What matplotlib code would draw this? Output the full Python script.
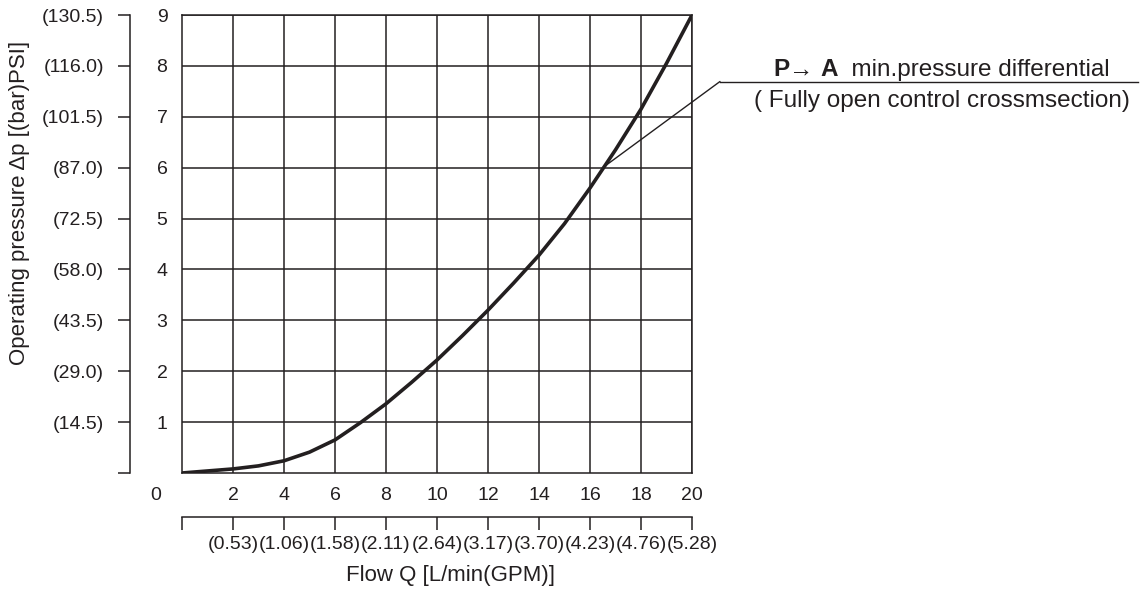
import matplotlib
matplotlib.use("Agg")
import matplotlib.pyplot as plt
from matplotlib.ticker import FixedLocator, FixedFormatter
from matplotlib.lines import Line2D

plt.rcParams['font.family'] = ['Liberation Sans', 'DejaVu Sans']

# ---- data ----
flow = [0, 1, 2, 3, 4, 5, 6, 7, 8, 9, 10, 11, 12, 13, 14, 15, 16, 17, 18, 19, 20]
pressure = [0, 0.04, 0.08, 0.14, 0.24, 0.41, 0.65, 0.99, 1.36, 1.78, 2.22, 2.70,
            3.20, 3.73, 4.28, 4.90, 5.60, 6.35, 7.15, 8.05, 9.0]
bar_ticks = [1, 2, 3, 4, 5, 6, 7, 8, 9]
bar_labels = ['1', '2', '3', '4', '5', '6', '7', '8', '9']
psi_ticks = [0, 1, 2, 3, 4, 5, 6, 7, 8, 9]
psi_labels = ['', '(14.5)', '(29.0)', '(43.5)', '(58.0)', '(72.5)', '(87.0)',
              '(101.5)', '(116.0)', '(130.5)']
lpm_ticks = [2, 4, 6, 8, 10, 12, 14, 16, 18, 20]
lpm_labels = ['2', '4', '6', '8', '10', '12', '14', '16', '18', '20']
gpm_ticks = [0, 2, 4, 6, 8, 10, 12, 14, 16, 18, 20]
gpm_labels = ['', '(0.53)', '(1.06)', '(1.58)', '(2.11)', '(2.64)', '(3.17)',
              '(3.70)', '(4.23)', '(4.76)', '(5.28)']
annot_point = (16.5, 6.0)

ink = '#231f20'
W, H = 1144, 589
fig = plt.figure(figsize=(W / 100, H / 100), dpi=100)
ax = fig.add_axes([182 / W, (H - 473) / H, 510 / W, 458 / H])
ax.set_xlim(0, 20)
ax.set_ylim(0, 9)

ax.plot(flow, pressure, color=ink, lw=2.6, solid_capstyle='round',
        solid_joinstyle='round', zorder=3)

ax.set_xticks(lpm_ticks)
ax.set_xticklabels(lpm_labels)
ax.set_yticks(bar_ticks)
ax.set_yticklabels(bar_labels)
ax.grid(True, color=ink, lw=1.1)
for s in ax.spines.values():
    s.set_color(ink)
    s.set_linewidth(1.1)
ax.tick_params(axis='both', length=0, labelsize=14, colors=ink)
ax.tick_params(axis='y', pad=10.5)
ax.tick_params(axis='x', pad=10)

fig.text(156 / W, 1 - 495 / H, '0', ha='center', va='center', fontsize=14, color=ink)

# separate PSI axis on the left
sec = ax.secondary_yaxis((130 - 182) / 510)
sec.yaxis.set_major_locator(FixedLocator(psi_ticks))
sec.yaxis.set_major_formatter(FixedFormatter(psi_labels))
sec.tick_params(direction='out', length=8.6, width=1.1, color=ink,
                labelsize=14, labelcolor=ink, pad=10)
for s in sec.spines.values():
    s.set_color(ink)
    s.set_linewidth(1.1)

# separate GPM axis below
secx = ax.secondary_xaxis(-(517 - 473) / 458)
secx.xaxis.set_major_locator(FixedLocator(gpm_ticks))
secx.xaxis.set_major_formatter(FixedFormatter(gpm_labels))
secx.tick_params(direction='out', length=9.4, width=1.1, color=ink,
                 labelsize=14, labelcolor=ink, pad=4)
for s in secx.spines.values():
    s.set_color(ink)
    s.set_linewidth(1.1)

fig.text(451 / W, 1 - 575 / H, 'Flow Q [L/min(GPM)]', ha='center', va='center',
         fontsize=16, color=ink)
fig.text(20 / W, 1 - 203 / H, 'Operating pressure Δp [(bar)PSI]', ha='center',
         va='center', rotation=90, fontsize=16, color=ink)

# annotation leader
ax.annotate('', xy=annot_point, xycoords='data',
            xytext=(720, H - 81.5), textcoords='figure pixels',
            arrowprops=dict(arrowstyle='-', color=ink, lw=1.0,
                            shrinkA=0, shrinkB=0))
fig.add_artist(Line2D([720 / W, 1138 / W], [1 - 81.5 / H, 1 - 81.5 / H],
                      color=ink, lw=1.0))

fs = 17.5
t1 = fig.text(773 / W, 1 - 76 / H, 'P', fontsize=fs, fontweight='bold',
              color=ink, ha='left', va='baseline')
t2 = ax.annotate('→ ', xy=(1, 0), xycoords=t1, ha='left', va='bottom',
                 fontsize=fs, color=ink)
t3 = ax.annotate('A', xy=(1, 0), xycoords=t2, ha='left', va='bottom',
                 fontsize=fs, fontweight='bold', color=ink)
t4 = ax.annotate('  min.pressure differential', xy=(1, 0), xycoords=t3,
                 ha='left', va='bottom', fontsize=fs, color=ink)
fig.text(942 / W, 1 - 101 / H, '( Fully open control crossmsection)',
         ha='center', va='center', fontsize=fs, color=ink)

fig.savefig('out.png', dpi=100)
